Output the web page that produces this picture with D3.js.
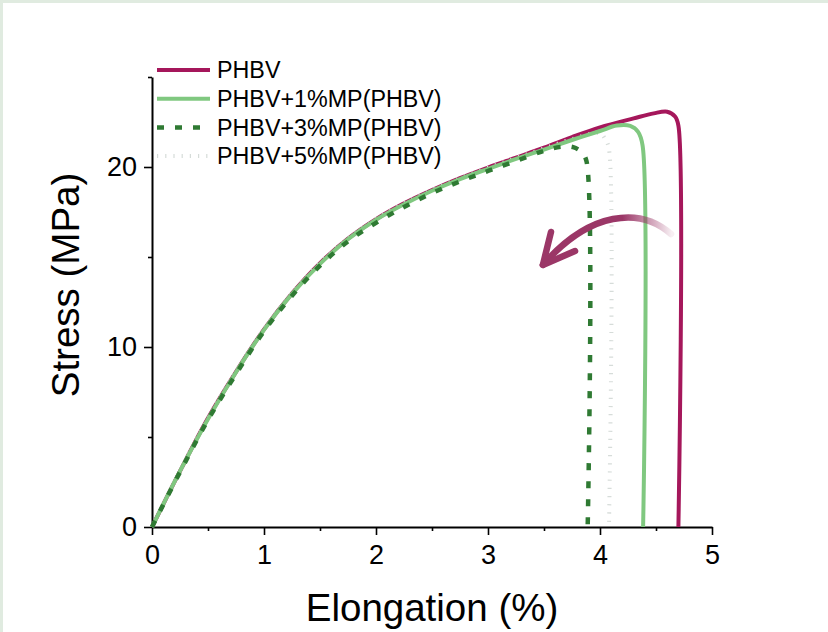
<!DOCTYPE html>
<html>
<head>
<meta charset="utf-8">
<script src="https://cdn.jsdelivr.net/npm/d3@7"></script>
<style>
  html, body { margin: 0; padding: 0; background: #fff; }
  svg { display: block; font-family: "Liberation Sans", Arial, sans-serif; }
</style>
</head>
<body>
<svg id="chart" width="828" height="632"></svg>
<script>
// Tensile stress–strain curves, one array pair per sample
const seriesNames = ["PHBV", "PHBV+1%MP(PHBV)", "PHBV+3%MP(PHBV)", "PHBV+5%MP(PHBV)"];

const strainPHBV = [0, 0.25, 0.5, 0.75, 1.0, 1.25, 1.5, 1.75, 2.0, 2.25, 2.5, 2.75, 3.0, 3.25, 3.5, 3.75, 4.0, 4.3, 4.48, 4.6, 4.67, 4.70, 4.70];
const stressPHBV = [0, 3.1, 6.05, 8.62, 10.98, 12.98, 14.66, 16.02, 17.1, 17.98, 18.72, 19.38, 19.97, 20.52, 21.07, 21.66, 22.2, 22.7, 22.98, 23.07, 22.8, 22.3, 0];

const strain1MP = [0, 0.25, 0.5, 0.75, 1.0, 1.25, 1.5, 1.75, 2.0, 2.25, 2.5, 2.75, 3.0, 3.25, 3.5, 3.75, 4.0, 4.15, 4.27, 4.34, 4.38, 4.385];
const stress1MP = [0, 3.1, 6.0, 8.6, 10.95, 12.95, 14.62, 15.99, 17.07, 17.93, 18.68, 19.33, 19.9, 20.45, 20.97, 21.5, 22.0, 22.3, 22.28, 21.95, 21.2, 0];

const strain3MP = [0, 0.25, 0.5, 0.75, 1.0, 1.25, 1.5, 1.75, 2.0, 2.25, 2.5, 2.75, 3.0, 3.25, 3.5, 3.65, 3.76, 3.84, 3.88, 3.89];
const stress3MP = [0, 3.05, 5.95, 8.5, 10.88, 12.85, 14.52, 15.87, 16.9, 17.78, 18.55, 19.2, 19.78, 20.33, 20.9, 21.12, 21.1, 20.8, 20.3, 0];

const strain5MP = [0, 0.25, 0.5, 0.75, 1.0, 1.25, 1.5, 1.75, 2.0, 2.25, 2.5, 2.75, 3.0, 3.25, 3.5, 3.75, 4.0, 4.05, 4.08, 4.08];
const stress5MP = [0, 3.12, 6.05, 8.65, 11.0, 13.0, 14.66, 16.03, 17.1, 17.98, 18.72, 19.38, 19.95, 20.5, 21.03, 21.55, 21.87, 21.5, 21.0, 0];

const xTicks = [0, 1, 2, 3, 4, 5];
const xMinorTicks = [0.5, 1.5, 2.5, 3.5, 4.5];
const yTicks = [0, 10, 20];
const yMinorTicks = [5, 15, 25];

// Annotation arrow (data coordinates): shaft start, two controls, tip, two barbs
const arrowShaft = [[4.634, 16.28], [4.357, 17.8], [3.91, 17.55], [3.49, 14.56]];
const arrowBarbs = [[3.5625, 16.39], [3.777, 15.33]];

const series = [
  { name: seriesNames[0], x: strainPHBV, y: stressPHBV, color: "#a5175b", width: 4, dash: null },
  { name: seriesNames[3], x: strain5MP, y: stress5MP, color: "#d6dcd9", width: 4, dash: "1.2,7" },
  { name: seriesNames[1], x: strain1MP, y: stress1MP, color: "#80c880", width: 4, dash: null },
  { name: seriesNames[2], x: strain3MP, y: stress3MP, color: "#2f7a33", width: 4.5, dash: "7,11" }
];
const legendOrder = [0, 2, 3, 1];

const svg = d3.select("#chart");
const W = 828, H = 632;

svg.append("rect").attr("width", W).attr("height", H).attr("fill", "#fff");
// thin tinted frame along the top and left edges
svg.append("rect").attr("x", 0).attr("y", 0).attr("width", W).attr("height", 3).attr("fill", "#e0ebe0");
svg.append("rect").attr("x", 0).attr("y", 0).attr("width", 3).attr("height", H).attr("fill", "#e0ebe0");

const x = d3.scaleLinear().domain([0, 5]).range([152, 712]);
const y = d3.scaleLinear().domain([0, 25]).range([527, 77]);

// Axes
const xAxis = d3.axisBottom(x).tickValues(xTicks).tickFormat(d3.format("d")).tickSize(8).tickSizeOuter(0).tickPadding(10);
svg.append("g").attr("transform", `translate(0,${y(0)})`).call(xAxis);
svg.append("g").attr("transform", `translate(0,${y(0)})`)
  .call(d3.axisBottom(x).tickValues(xMinorTicks).tickSize(4).tickSizeOuter(0).tickFormat(""))
  .call(g => g.select(".domain").remove());

const yAxis = d3.axisLeft(y).tickValues(yTicks).tickFormat(d3.format("d")).tickSize(8).tickSizeOuter(0).tickPadding(7);
svg.append("g").attr("transform", `translate(${x(0)},0)`).call(yAxis);
svg.append("g").attr("transform", `translate(${x(0)},0)`)
  .call(d3.axisLeft(y).tickValues(yMinorTicks).tickSize(4).tickSizeOuter(0).tickFormat(""))
  .call(g => g.select(".domain").remove());

svg.selectAll(".domain").attr("stroke", "#000").attr("stroke-width", 2);
svg.selectAll(".tick line").attr("stroke", "#000").attr("stroke-width", 1.6);
svg.selectAll(".tick text").attr("font-size", 27).attr("fill", "#000")
  .attr("font-family", "'Liberation Sans', Arial, sans-serif");

// Axis titles
svg.append("text").attr("x", (x(0) + x(5)) / 2).attr("y", 621)
  .attr("text-anchor", "middle").attr("font-size", 38.5).attr("fill", "#000")
  .text("Elongation (%)");
svg.append("text").attr("transform", "translate(79,285) rotate(-90)")
  .attr("text-anchor", "middle").attr("font-size", 38.5).attr("fill", "#000")
  .text("Stress (MPa)");

// Curves
const line = d3.line().x(d => x(d[0])).y(d => y(d[1])).curve(d3.curveCatmullRom.alpha(0.5));
series.forEach(s => {
  const pts = s.x.map((v, i) => [v, s.y[i]]);
  svg.append("path").datum(pts)
    .attr("d", line)
    .attr("fill", "none")
    .attr("stroke", s.color)
    .attr("stroke-width", s.width)
    .attr("stroke-linejoin", "round")
    .attr("stroke-dasharray", s.dash);
});

// Legend
const legendX0 = 157, legendX1 = 210, legendY0 = 70, legendDy = 28.7;
legendOrder.forEach((si, i) => {
  const s = series[si];
  const yy = legendY0 + i * legendDy;
  svg.append("line").attr("x1", legendX0).attr("x2", legendX1).attr("y1", yy).attr("y2", yy)
    .attr("stroke", s.color).attr("stroke-width", s.width).attr("stroke-dasharray", s.dash);
  svg.append("text").attr("x", 217).attr("y", yy).attr("dy", "0.36em")
    .attr("font-size", 23.3).attr("fill", "#000").text(s.name);
});

// Curved arrow, fading toward its tail
const defs = svg.append("defs");
const grad = defs.append("linearGradient").attr("id", "arrowFade")
  .attr("gradientUnits", "userSpaceOnUse")
  .attr("x1", x(4.2)).attr("y1", 0).attr("x2", x(4.64)).attr("y2", 0);
grad.append("stop").attr("offset", 0).attr("stop-color", "#9b3767").attr("stop-opacity", 1);
grad.append("stop").attr("offset", 1).attr("stop-color", "#9b3767").attr("stop-opacity", 0.08);

const a = arrowShaft.map(p => [x(p[0]), y(p[1])]);
const arrow = svg.append("g").attr("fill", "none").attr("stroke-linecap", "round").attr("stroke-linejoin", "round");
arrow.append("path")
  .attr("d", `M${a[0]}C${a[1]} ${a[2]} ${a[3]}`)
  .attr("stroke", "url(#arrowFade)").attr("stroke-width", 6.5);
const tip = a[3];
const b = arrowBarbs.map(p => [x(p[0]), y(p[1])]);
arrow.append("path")
  .attr("d", `M${b[0]}L${tip}L${b[1]}`)
  .attr("stroke", "#9b3767").attr("stroke-width", 6.5);
</script>
</body>
</html>
